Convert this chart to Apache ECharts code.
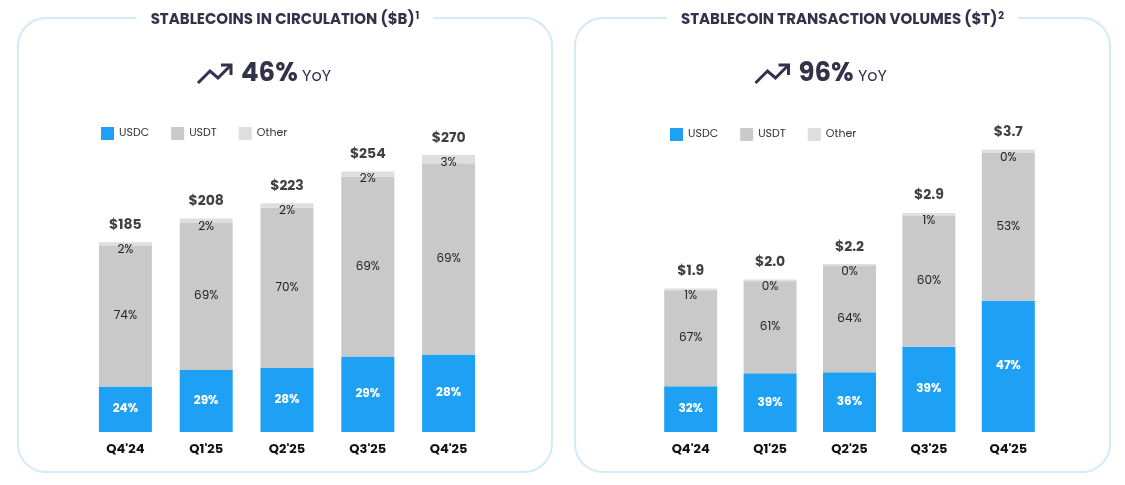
<!DOCTYPE html>
<html>
<head>
<meta charset="utf-8">
<script src="https://cdn.jsdelivr.net/npm/echarts@6/dist/echarts.min.js"></script>
<style>html,body{margin:0;padding:0;background:#fff}#c{width:1125px;height:485px}</style>
</head>
<body>
<div id="c"></div>
<script>
// 数据
var quarters = ["Q4'24", "Q1'25", "Q2'25", "Q3'25", "Q4'25"];
var circTotals = [185, 208, 223, 254, 270];
var circUsdc = [24, 29, 28, 29, 28];
var circUsdt = [74, 69, 70, 69, 69];
var circOther = [2, 2, 2, 2, 3];
var volTotals = [1.9, 2.0, 2.2, 2.9, 3.7];
var volUsdc = [32, 39, 36, 39, 47];
var volUsdt = [67, 61, 64, 60, 53];
var volOther = [1, 0, 0, 1, 0];

var blue = '#1ea1f5', grey = '#c9c9c9', light = '#dedede', ink = '#2b2b3c';
var font = 'Poppins, Inter, "Noto Sans", sans-serif';

// 百分比 -> 柱高
function seg(totals, pct, minPct) {
  return totals.map(function (t, i) {
    return { value: t * Math.max(pct[i], minPct || 0) / 100, pct: pct[i] };
  });
}
function pctLabel(white) {
  return {
    show: true, position: 'inside', fontFamily: font,
    fontSize: 12, color: white ? '#fff' : '#222', fontWeight: white ? 'bold' : 'normal',
    formatter: function (p) { return p.data.pct + '%'; }
  };
}
function makeSeries(idx, totals, usdc, usdt, other, fmt) {
  var stack = 's' + idx;
  return [
    { name: 'USDC', type: 'bar', stack: stack, xAxisIndex: idx, yAxisIndex: idx, barWidth: 53,
      itemStyle: { color: blue }, label: pctLabel(true), data: seg(totals, usdc) },
    { name: 'USDT', type: 'bar', stack: stack, xAxisIndex: idx, yAxisIndex: idx,
      itemStyle: { color: grey }, label: pctLabel(false), data: seg(totals, usdt) },
    { name: 'Other', type: 'bar', stack: stack, xAxisIndex: idx, yAxisIndex: idx,
      itemStyle: { color: light },
      label: { show: true, position: 'insideTop', offset: [0, -3], fontFamily: font, fontSize: 12, color: '#222',
        formatter: function (p) { return p.data.pct + '%'; } },
      data: seg(totals, other, 1.2) },
    { name: 'total', type: 'scatter', xAxisIndex: idx, yAxisIndex: idx, symbolSize: 0,
      label: { show: true, position: 'top', distance: 10, fontFamily: font, fontSize: 14, fontWeight: 'bold', color: '#111',
        formatter: function (p) { return fmt(p.data.t); } },
      data: totals.map(function (t, i) {
        return { value: t * (usdc[i] + usdt[i] + Math.max(other[i], 1.2)) / 100, t: t };
      }) }
  ];
}

function panel(x, w, title, sup, yoy, legendX) {
  var cx = x + w / 2;
  return [
    { type: 'rect', shape: { x: x, y: 18, width: w, height: 454, r: 28 },
      style: { fill: 'none', stroke: '#d3ebf7', lineWidth: 2 } },
    { type: 'text', x: cx, y: 20, style: {
        text: '{t|' + title + '}{s|' + sup + '}', align: 'center', verticalAlign: 'middle',
        backgroundColor: '#fff', padding: [0, 14],
        rich: { t: { fontFamily: font, fontSize: 15, fontWeight: 'bold', fill: '#33324a' },
                s: { fontFamily: font, fontSize: 10, fontWeight: 'bold', fill: '#33324a', verticalAlign: 'top', padding: [0, 0, 8, 1] } } } },
    { type: 'polyline', shape: { points: [[cx - 87, 83], [cx - 75, 71], [cx - 67, 78], [cx - 55, 66]] },
      style: { stroke: '#33324a', lineWidth: 3, fill: 'none' } },
    { type: 'polyline', shape: { points: [[cx - 64, 65], [cx - 54, 65], [cx - 54, 75]] },
      style: { stroke: '#33324a', lineWidth: 3, fill: 'none' } },
    { type: 'text', x: cx - 44, y: 74, style: {
        text: '{a|' + yoy + '}{b| YoY}', verticalAlign: 'middle',
        rich: { a: { fontFamily: font, fontSize: 26, fontWeight: 'bold', fill: '#33324a' },
                b: { fontFamily: font, fontSize: 16, fill: '#33324a', padding: [6, 0, 0, 0] } } } }
  ];
}

var chart = echarts.init(document.getElementById('c'));
var axisX = function (i) {
  return { type: 'category', gridIndex: i, data: quarters,
    axisLine: { show: false }, axisTick: { show: false },
    axisLabel: { fontFamily: font, fontSize: 13, fontWeight: 'bold', color: '#111', margin: 11 } };
};
var axisY = function (i, max) {
  return { type: 'value', gridIndex: i, min: 0, max: max, show: false, splitLine: { show: false } };
};
chart.setOption({
  animation: false,
  grid: [
    { left: 85, width: 404, top: 140, bottom: 53 },
    { left: 651, width: 397, top: 140, bottom: 53 }
  ],
  legend: [
    { data: ['USDC', 'USDT', 'Other'], left: 96, top: 122, icon: 'rect', itemWidth: 13, itemHeight: 13, itemGap: 22,
      textStyle: { fontFamily: font, fontSize: 11, color: '#333' } },
    { data: ['USDC', 'USDT', 'Other'], left: 665, top: 123, icon: 'rect', itemWidth: 13, itemHeight: 13, itemGap: 22,
      textStyle: { fontFamily: font, fontSize: 11, color: '#333' } }
  ],
  xAxis: [axisX(0), axisX(1)],
  yAxis: [axisY(0, 270 * 292 / 277), axisY(1, 3.7 * 292 / 279)],
  series: makeSeries(0, circTotals, circUsdc, circUsdt, circOther, function (t) { return '$' + t; })
    .concat(makeSeries(1, volTotals, volUsdc, volUsdt, volOther, function (t) { return '$' + t.toFixed(1); })),
  graphic: panel(18, 534, 'STABLECOINS IN CIRCULATION ($B)', '1', '46%', 96)
    .concat(panel(575, 535, 'STABLECOIN TRANSACTION VOLUMES ($T)', '2', '96%', 665))
});
</script>
</body>
</html>
